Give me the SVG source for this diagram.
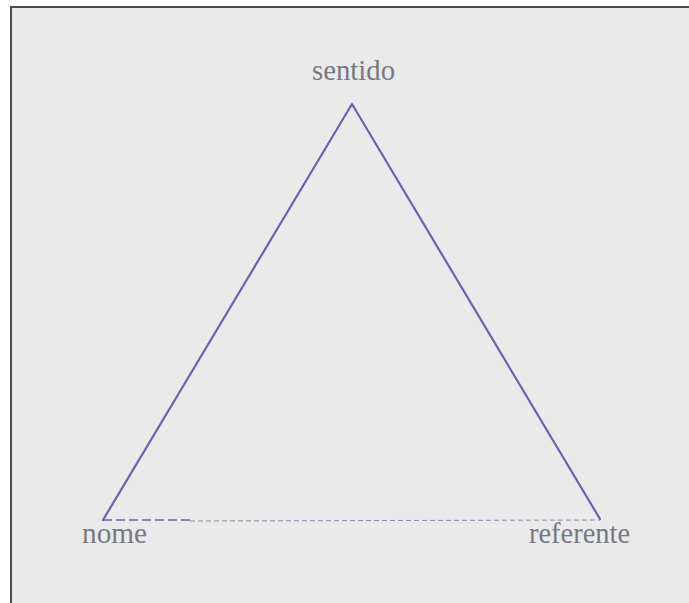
<svg xmlns="http://www.w3.org/2000/svg" width="689" height="603" viewBox="0 0 689 603">
  <style>
    .lbl { font-family: "Liberation Serif", "Times New Roman", serif; font-size: 29px; fill: #787882; }
    .edge { fill: none; stroke: #6a62b4; stroke-width: 2.2; stroke-linecap: round; stroke-linejoin: round; }
  </style>
  <rect x="0" y="0" width="689" height="603" fill="#ffffff"/>
  <rect x="11" y="7" width="700" height="700" fill="#eaeaea" stroke="#4a4a4a" stroke-width="2"/>
  <g id="connectors">
    <path class="edge" d="M103,520 L352,104 L600,519"/>
    <line x1="103" y1="520" x2="190" y2="520" stroke="#6a62b4" stroke-width="1.6" stroke-dasharray="9,4"/>
    <line x1="190" y1="521" x2="600" y2="520" stroke="#8a8aaa" stroke-width="1" stroke-dasharray="5,3"/>
  </g>
  <g id="node-sentido">
    <text class="lbl" x="312" y="80" textLength="83" lengthAdjust="spacingAndGlyphs">sentido</text>
  </g>
  <g id="node-nome">
    <text class="lbl" x="82" y="543" textLength="65" lengthAdjust="spacingAndGlyphs">nome</text>
  </g>
  <g id="node-referente">
    <text class="lbl" x="529" y="543" textLength="101" lengthAdjust="spacingAndGlyphs">referente</text>
  </g>
</svg>
